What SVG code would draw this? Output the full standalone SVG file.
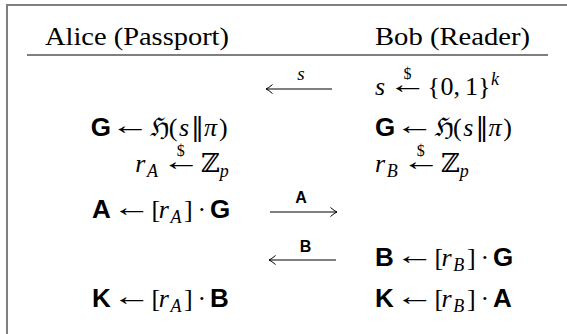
<svg xmlns="http://www.w3.org/2000/svg" width="567" height="334" viewBox="0 0 567 334">
<style>
.rm{font-family:"Liberation Serif",serif;font-size:26px;fill:#000}
.it{font-style:italic}
.sb{font-family:"Liberation Sans",sans-serif;font-weight:bold}
.sym{font-family:"DejaVu Serif","DejaVu Sans",serif}
.sub{font-size:18px}
.dol{font-family:"Liberation Serif",serif;font-size:16px;text-anchor:middle}
.lbl{font-size:16px;text-anchor:middle}
.lbls{font-size:19px;text-anchor:middle}
.conn{stroke:#000;stroke-width:1.1;fill:none}
</style>
<defs>
<marker id="ah" markerUnits="userSpaceOnUse" markerWidth="12" markerHeight="12" viewBox="-8 -6 10 12" refX="0" refY="0" orient="auto">
<path d="M -6.5 -4.5 Q -2.5 -1 0 0 Q -2.5 1 -6.5 4.5" fill="none" stroke="#000" stroke-width="1"/>
</marker>
</defs>
<rect x="7" y="5" width="620" height="400" fill="#fff" stroke="#7f7f7f" stroke-width="2"/>
<g id="header">
<text class="rm" x="45" y="45" textLength="184" lengthAdjust="spacingAndGlyphs">Alice (Passport)</text>
<text class="rm" x="375" y="45" textLength="155" lengthAdjust="spacingAndGlyphs">Bob (Reader)</text>
<line x1="27" y1="55" x2="548" y2="55" stroke="#000" stroke-width="1.2"/>
</g>
<g id="bob-seed">
<text class="rm it" x="375" y="95">s</text>
<text class="rm" transform="translate(388.6,92.5) scale(1.5,1)">←</text>
<text class="rm" y="95"><tspan x="427.6">{</tspan><tspan x="440.6">0</tspan><tspan x="453.6">,</tspan><tspan x="465.1">1</tspan><tspan x="478.1">}</tspan><tspan class="it sub" x="491.1" dy="-10">k</tspan></text>
<text class="dol" x="407.4" y="79">$</text>
</g>
<g id="alice-gen">
<text class="sb rm" x="90.7" y="136">G</text>
<text class="rm" transform="translate(111.1,133.5) scale(1.5,1)">←</text>
<text class="rm" y="136"><tspan class="sym" x="150.1">ℌ</tspan><tspan x="168.8">(</tspan><tspan class="it" x="178.9">s</tspan><tspan class="sym" x="191.1">‖</tspan><tspan class="it" x="204.1">π</tspan><tspan x="218.9">)</tspan></text>
</g>
<g id="bob-gen">
<text class="sb rm" x="375" y="136">G</text>
<text class="rm" transform="translate(395.4,133.5) scale(1.5,1)">←</text>
<text class="rm" y="136"><tspan class="sym" x="434.4">ℌ</tspan><tspan x="453.1">(</tspan><tspan class="it" x="463.2">s</tspan><tspan class="sym" x="475.4">‖</tspan><tspan class="it" x="488.4">π</tspan><tspan x="503.2">)</tspan></text>
</g>
<g id="alice-rand">
<text class="rm" y="172"><tspan class="it" x="135.3">r</tspan><tspan class="it sub" x="147" dy="5">A</tspan></text>
<text class="rm" transform="translate(162,169.5) scale(1.5,1)">←</text>
<text class="rm" y="172"><tspan class="sym" x="201">ℤ</tspan><tspan class="it sub" x="219.8" dy="5">p</tspan></text>
<text class="dol" x="180.8" y="156">$</text>
</g>
<g id="bob-rand">
<text class="rm" y="172"><tspan class="it" x="375">r</tspan><tspan class="it sub" x="386.7" dy="5">B</tspan></text>
<text class="rm" transform="translate(401.9,169.5) scale(1.5,1)">←</text>
<text class="rm" y="172"><tspan class="sym" x="440.9">ℤ</tspan><tspan class="it sub" x="459.7" dy="5">p</tspan></text>
<text class="dol" x="420.7" y="156">$</text>
</g>
<g id="alice-pub">
<text class="sb rm" x="92.1" y="218">A</text>
<text class="rm" transform="translate(112.5,215.5) scale(1.5,1)">←</text>
<text class="rm" y="218"><tspan x="151.5">[</tspan><tspan class="it" x="158.7">r</tspan><tspan class="it sub" x="170.4" dy="5">A</tspan><tspan x="184" dy="-5">]</tspan><tspan x="197.5">·</tspan><tspan class="sb" x="210">G</tspan></text>
</g>
<g id="bob-pub">
<text class="sb rm" x="375" y="266">B</text>
<text class="rm" transform="translate(395.4,263.5) scale(1.5,1)">←</text>
<text class="rm" y="266"><tspan x="434.4">[</tspan><tspan class="it" x="441.6">r</tspan><tspan class="it sub" x="453.3" dy="5">B</tspan><tspan x="467.1" dy="-5">]</tspan><tspan x="480.6">·</tspan><tspan class="sb" x="493.1">G</tspan></text>
</g>
<g id="alice-key">
<text class="sb rm" x="92.1" y="307">K</text>
<text class="rm" transform="translate(112.5,304.5) scale(1.5,1)">←</text>
<text class="rm" y="307"><tspan x="151.5">[</tspan><tspan class="it" x="158.7">r</tspan><tspan class="it sub" x="170.4" dy="5">A</tspan><tspan x="184" dy="-5">]</tspan><tspan x="197.5">·</tspan><tspan class="sb" x="210">B</tspan></text>
</g>
<g id="bob-key">
<text class="sb rm" x="375" y="307">K</text>
<text class="rm" transform="translate(395.4,304.5) scale(1.5,1)">←</text>
<text class="rm" y="307"><tspan x="434.4">[</tspan><tspan class="it" x="441.6">r</tspan><tspan class="it sub" x="453.3" dy="5">B</tspan><tspan x="467.1" dy="-5">]</tspan><tspan x="480.6">·</tspan><tspan class="sb" x="493.1">A</tspan></text>
</g>
<g id="connectors">
<line class="conn" x1="332" y1="89" x2="266" y2="89" marker-end="url(#ah)"/>
<text class="rm it lbls" x="301" y="80">s</text>
<line class="conn" x1="270" y1="212" x2="337" y2="212" marker-end="url(#ah)"/>
<text class="rm sb lbl" x="301" y="203">A</text>
<line class="conn" x1="336" y1="260" x2="269" y2="260" marker-end="url(#ah)"/>
<text class="rm sb lbl" x="305.5" y="252">B</text>
</g>
</svg>
